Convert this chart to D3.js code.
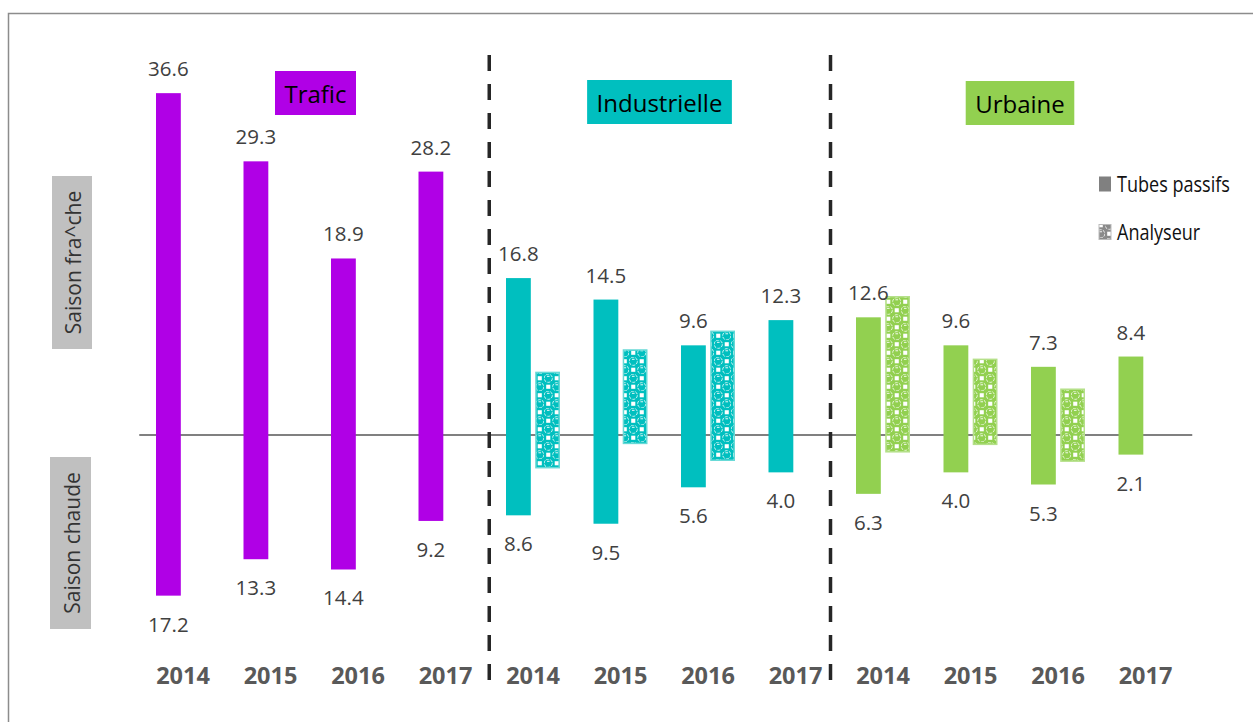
<!DOCTYPE html>
<html>
<head>
<meta charset="utf-8">
<script src="https://cdn.jsdelivr.net/npm/d3@7"></script>
<style>
  html, body { margin: 0; padding: 0; background: #fff; }
  svg { display: block; }
</style>
</head>
<body>
<svg id="chart" width="1253" height="722"></svg>
<script>
// ---------------- DATA ----------------
const groups = ["Trafic", "Industrielle", "Urbaine"];
const years = ["2014", "2015", "2016", "2017"];
const seriesNames = ["Tubes passifs", "Analyseur"];
const seasonLabels = ["Saison fra^che", "Saison chaude"];

// Tubes passifs (saison fraîche above the line, saison chaude below)
const tubesFraiche = [36.6, 29.3, 18.9, 28.2, 16.8, 14.5, 9.6, 12.3, 12.6, 9.6, 7.3, 8.4];
const tubesChaude  = [17.2, 13.3, 14.4, 9.2, 8.6, 9.5, 5.6, 4.0, 6.3, 4.0, 5.3, 2.1];
// Analyseur (not labelled)
const analyseurFraiche = [null, null, null, null, 6.7, 9.1, 11.1, null, 14.8, 8.1, 4.9, null];
const analyseurChaude  = [null, null, null, null, 3.5, 0.9, 2.7, null, 1.8, 1.0, 2.8, null];

const groupColors = ["#B000E6", "#00BFBF", "#92D050"];
const groupBorders = ["#D070F0", "#66D9D6", "#B5E08A"];

// ---------------- LAYOUT ----------------
const categories = groups.flatMap(g => years.map(yr => g + " " + yr));
const svg = d3.select("#chart");

const x = d3.scaleBand().domain(categories).range([139.25, 1189.25]).padding(0);
const x1 = d3.scaleBand().domain(seriesNames).range([-27, 27]).paddingInner(0.15);
const y = d3.scaleLinear().domain([-20, 40]).range([435 + 20 * 9.34, 435 - 40 * 9.34]);
const cx = c => x(c) + x.step() / 2;

// frame
svg.append("rect").attr("x", 8.5).attr("y", 13.5).attr("width", 1262).attr("height", 720)
  .attr("fill", "none").attr("stroke", "#8c8c8c").attr("stroke-width", 1.5);

// patterns
const defs = svg.append("defs");
function makePattern(id, col) {
  const p = defs.append("pattern").attr("id", id).attr("patternUnits", "userSpaceOnUse")
    .attr("width", 17).attr("height", 17);
  p.append("rect").attr("width", 17).attr("height", 17).attr("fill", col);
  [[8.5, 0], [0, 8.5]].forEach(([a, b]) => {
    p.append("rect").attr("x", a + 2.2).attr("y", b + 2.2).attr("width", 4.1).attr("height", 4.1).attr("fill", "#fff");
  });
  [[4.25, 4.25], [12.75, 12.75]].forEach(([a, b]) => {
    p.append("circle").attr("cx", a).attr("cy", b).attr("r", 4.1).attr("fill", col)
      .attr("stroke", "#fff").attr("stroke-width", 0.8).attr("stroke-dasharray", "3,1.2");
    p.append("rect").attr("x", a - 1.3).attr("y", b - 2.4).attr("width", 2.6).attr("height", 0.9).attr("fill", "#fff");
  });
}
groupColors.forEach((c, i) => makePattern("pat" + i, c));
makePattern("patGrey", "#8a8a8a");

// baseline
svg.append("line").attr("x1", x.range()[0]).attr("x2", x.range()[1] + 3)
  .attr("y1", y(0)).attr("y2", y(0)).attr("stroke", "#808080").attr("stroke-width", 2);

// bars
categories.forEach((c, i) => {
  const gi = Math.floor(i / years.length);
  const col = groupColors[gi];
  svg.append("rect")
    .attr("x", cx(c) + x1("Tubes passifs"))
    .attr("y", y(tubesFraiche[i]))
    .attr("width", x1.bandwidth())
    .attr("height", y(-tubesChaude[i]) - y(tubesFraiche[i]))
    .attr("fill", col);
  if (analyseurFraiche[i] != null) {
    svg.append("rect")
      .attr("x", cx(c) + x1("Analyseur") + 0.75)
      .attr("y", y(analyseurFraiche[i]))
      .attr("width", x1.bandwidth() - 1.5)
      .attr("height", y(-analyseurChaude[i]) - y(analyseurFraiche[i]))
      .attr("fill", "url(#pat" + gi + ")")
      .attr("stroke", groupBorders[gi]).attr("stroke-width", 1.5);
  }
  const lx = cx(c) + x1("Tubes passifs") + x1.bandwidth() / 2;
  svg.append("text").attr("x", lx).attr("y", y(tubesFraiche[i]) - 25)
    .attr("text-anchor", "middle").attr("dominant-baseline", "central")
    .attr("font-family", "Open Sans").attr("font-size", 20.5).attr("fill", "#404040")
    .text(tubesFraiche[i].toFixed(1));
  svg.append("text").attr("x", lx).attr("y", y(-tubesChaude[i]) + 28)
    .attr("text-anchor", "middle").attr("dominant-baseline", "central")
    .attr("font-family", "Open Sans").attr("font-size", 20.5).attr("fill", "#404040")
    .text(tubesChaude[i].toFixed(1));
});

// separators between groups
const sepIndex = [4, 7.9];
sepIndex.forEach(k => {
  const sx = x.range()[0] + k * x.step();
  svg.append("line").attr("x1", sx).attr("x2", sx).attr("y1", 55).attr("y2", 688)
    .attr("stroke", "#262626").attr("stroke-width", 3.5).attr("stroke-dasharray", "16,13");
});

// year axis
const ax = svg.append("g").attr("transform", "translate(0,664)")
  .call(d3.axisBottom(x).tickSize(0).tickPadding(3).tickFormat(d => d.split(" ")[1]));
ax.select(".domain").remove();
ax.selectAll("text").attr("font-family", "Open Sans").attr("font-weight", "bold")
  .attr("font-size", 23.5).attr("fill", "#595959");

// group title boxes
const titleCenters = [[315.5, 93], [659.5, 102], [1020, 103]];
groups.forEach((g, i) => {
  const [tx, ty] = titleCenters[i];
  const gg = svg.append("g");
  const t = gg.append("text").attr("x", tx).attr("y", ty)
    .attr("text-anchor", "middle").attr("dominant-baseline", "central")
    .attr("font-family", "Open Sans").attr("font-size", 24).attr("fill", "#000").text(g);
  const bb = t.node().getBBox();
  gg.insert("rect", "text").attr("x", bb.x - 9.5).attr("y", ty - 22)
    .attr("width", bb.width + 19).attr("height", 44).attr("fill", groupColors[i]);
});

// season labels (left)
const seasonBoxes = [[52, 176, 40, 173], [50, 457, 41, 172]];
seasonLabels.forEach((s, i) => {
  const [bx, by, bw, bh] = seasonBoxes[i];
  svg.append("rect").attr("x", bx).attr("y", by).attr("width", bw).attr("height", bh).attr("fill", "#C0C0C0");
  svg.append("text").attr("transform", `translate(${bx + bw / 2 + 1},${by + bh / 2}) rotate(-90)`)
    .attr("text-anchor", "middle").attr("dominant-baseline", "central")
    .attr("font-family", "Open Sans").attr("font-size", 21).attr("fill", "#333").text(s);
});

// legend
const legendY = [184, 232];
const legendW = [121, 90];
seriesNames.forEach((s, i) => {
  svg.append("rect").attr("x", 1099).attr("y", legendY[i] - 7.5).attr("width", 12).attr("height", 15)
    .attr("fill", i === 0 ? "#808080" : "url(#patGrey)")
    .attr("stroke", i === 0 ? "none" : "#bbb").attr("stroke-width", 1);
  svg.append("text").attr("x", 1117).attr("y", legendY[i]).attr("dominant-baseline", "central")
    .attr("font-family", "Open Sans").attr("font-size", 19).attr("fill", "#111")
    .attr("transform", `translate(1117,${legendY[i]}) scale(0.95,1.12) translate(-1117,${-legendY[i]})`)
    .text(s);
});
</script>
</body>
</html>
